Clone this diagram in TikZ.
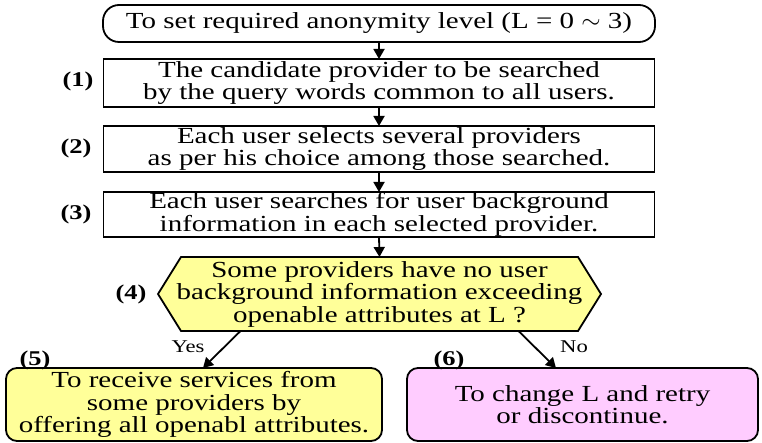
\documentclass[tikz,border=0pt]{standalone}
\usepackage{fontspec}
\setmainfont{Liberation Serif}[FakeStretch=1.26]
\usetikzlibrary{arrows.meta}
\definecolor{paleyellow}{RGB}{255,255,153}
\definecolor{palepink}{RGB}{255,204,255}

\begin{document}
\begin{tikzpicture}[x=1pt,y=-1pt,
  every node/.style={inner sep=0pt, outer sep=0pt},
  flowtext/.style={font=\fontsize{23}{22.5}\selectfont, align=center},
  outline/.style={draw=black, line width=1.8pt},
  stepbox/.style={flowtext, outline, rectangle, minimum width=551pt},
  endbox/.style={flowtext, outline, rounded corners=11pt, minimum height=73pt},
  steplabel/.style={font=\fontsize{21}{21}\selectfont\bfseries},
  branchlabel/.style={font=\fontsize{18}{18}\selectfont},
  flow/.style={line width=1.8pt, -{Triangle[length=10pt,width=11pt]}}]

\useasboundingbox (0,0) rectangle (762,443);

% start and the three search steps
\node[flowtext, outline, rounded corners=16pt, minimum width=552pt, minimum height=37pt]
  (start) at (379,23.5) {To set required anonymity level (L = 0 $\sim$ 3)};
\node[stepbox, minimum height=48pt] (s1) at (379,83)
  {The candidate provider to be searched\\by the query words common to all users.};
\node[stepbox, minimum height=46pt] (s2) at (379,149)
  {Each user selects several providers\\as per his choice among those searched.};
\node[stepbox, minimum height=45pt] (s3) at (379,214.5)
  {Each user searches for user background\\information in each selected provider.};

% decision hexagon
\coordinate (hexL) at (158,294);
\coordinate (hexTL) at (181,257);
\coordinate (hexT) at (379.5,257);
\coordinate (hexTR) at (578,257);
\coordinate (hexR) at (601,294);
\coordinate (hexBR) at (578,331);
\coordinate (hexBL) at (181,331);
\coordinate (yesFrom) at (240.5,331);
\coordinate (noFrom) at (518.5,331);
\filldraw[outline, fill=paleyellow, line join=miter]
  (hexL) -- (hexTL) -- (hexTR) -- (hexR) -- (hexBR) -- (hexBL) -- cycle;
\node[flowtext] (hex) at (379.5,294)
  {Some providers have no user\\background information exceeding\\openable attributes at L ?};

% outcomes
\node[endbox, fill=paleyellow, minimum width=376pt] (s5) at (194,404.5)
  {To receive services from\\some providers by\\offering all openabl attributes.};
\node[endbox, fill=palepink, minimum width=351pt] (s6) at (582.5,404.5)
  {To change L and retry\\or discontinue.};

% step numbers
\node[steplabel] (n1) at (78,81) {(1)};
\node[steplabel] (n2) at (76,148) {(2)};
\node[steplabel] (n3) at (76,214) {(3)};
\node[steplabel] (n4) at (131,294) {(4)};
\node[steplabel] (n5) at (35,360) {(5)};
\node[steplabel] (n6) at (449,360) {(6)};

% connectors
\draw[flow] (start) -- (s1);
\draw[flow] (s1) -- (s2);
\draw[flow] (s2) -- (s3);
\draw[flow] (s3.south) -- (hexT);
\draw[flow] (yesFrom) -- ([xshift=9pt]s5.north);
\draw[flow] (noFrom) -- ([xshift=-26.5pt]s6.north);
\node[branchlabel] (yes) at (188,347) {Yes};
\node[branchlabel] (no) at (574,347) {No};
\end{tikzpicture}
\end{document}
